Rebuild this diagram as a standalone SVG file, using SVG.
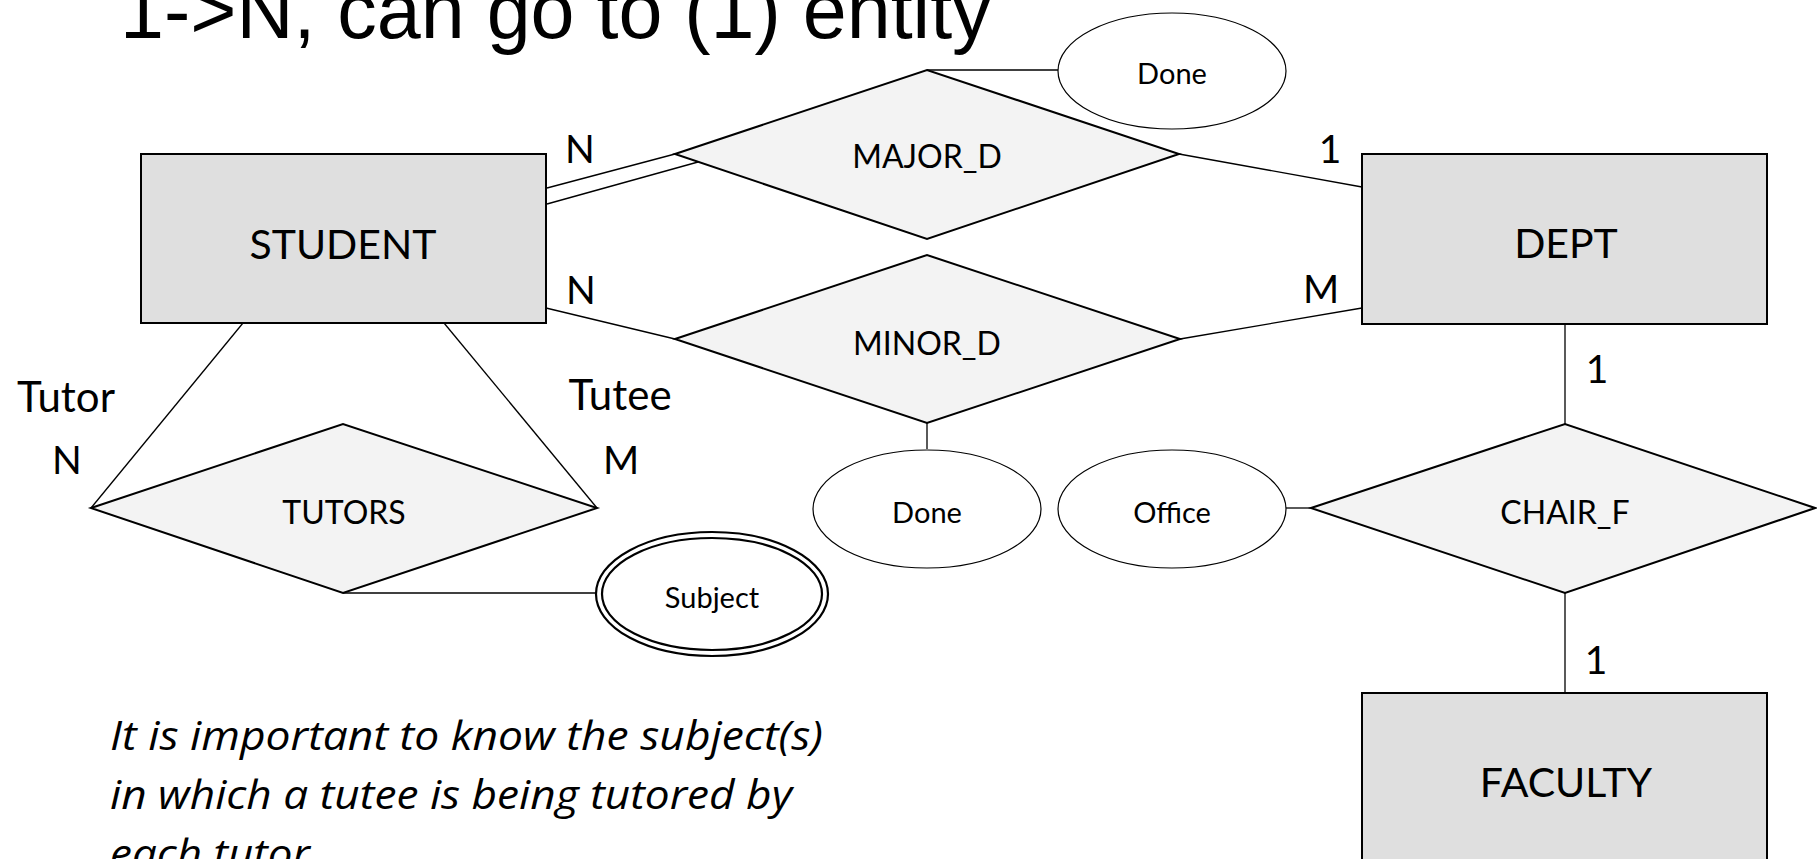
<svg xmlns="http://www.w3.org/2000/svg" width="1817" height="859" viewBox="0 0 1817 859">
  <style>
    .entity { fill: #dfdfdf; stroke: #000; stroke-width: 2; }
    .rel { fill: #f3f3f3; stroke: #000; stroke-width: 2; }
    .attr { fill: #fff; stroke: #000; stroke-width: 1.2; }
    .attr2 { fill: none; stroke: #000; stroke-width: 2.2; }
    .link { stroke: #000; stroke-width: 1.3; fill: none; }
    text { font-family: Lato, "Open Sans", sans-serif; fill: #000; }
    .elabel { font-size: 41px; text-anchor: middle; }
    .rlabel { font-size: 32px; text-anchor: middle; }
    .alabel { font-size: 29px; text-anchor: middle; }
    .card { font-size: 39px; text-anchor: middle; }
    .role { font-size: 42px; text-anchor: middle; }
    .title { font-family: "Liberation Sans", Arial, sans-serif; font-size: 79px; }
    .note { font-family: "Open Sans", Lato, sans-serif; font-size: 40px; font-style: italic; }
  </style>

  <!-- slide heading, clipped at the top edge -->
  <text class="title" x="120" y="38">1-&gt;N, can go to (1) entity</text>

  <!-- connectors -->
  <g id="connectors">
    <!-- STUDENT = MAJOR_D (total participation, double line) -->
    <line class="link" x1="547" y1="188" x2="675" y2="154"/>
    <line class="link" x1="547" y1="204" x2="698" y2="162"/>
    <!-- MAJOR_D - DEPT -->
    <line class="link" x1="1179" y1="154" x2="1362" y2="187"/>
    <!-- MAJOR_D - Done -->
    <line class="link" x1="927" y1="70" x2="1058" y2="70"/>
    <!-- STUDENT - MINOR_D -->
    <line class="link" x1="546" y1="308" x2="675" y2="339"/>
    <!-- MINOR_D - DEPT -->
    <line class="link" x1="1180" y1="339" x2="1362" y2="308"/>
    <!-- MINOR_D - Done -->
    <line class="link" x1="927" y1="423" x2="927" y2="449"/>
    <!-- STUDENT - TUTORS (recursive roles) -->
    <line class="link" x1="243" y1="323" x2="91" y2="508"/>
    <line class="link" x1="444" y1="323" x2="597" y2="508"/>
    <!-- TUTORS - Subject -->
    <line class="link" x1="343" y1="593" x2="596" y2="593"/>
    <!-- DEPT - CHAIR_F -->
    <line class="link" x1="1565" y1="324" x2="1565" y2="424"/>
    <!-- Office - CHAIR_F -->
    <line class="link" x1="1286" y1="508" x2="1311" y2="508"/>
    <!-- CHAIR_F - FACULTY -->
    <line class="link" x1="1565" y1="593" x2="1565" y2="693"/>
  </g>

  <!-- entities -->
  <g id="student">
    <rect class="entity" x="141" y="154" width="405" height="169"/>
    <text class="elabel" x="343" y="259">STUDENT</text>
  </g>
  <g id="dept">
    <rect class="entity" x="1362" y="154" width="405" height="170"/>
    <text class="elabel" x="1566" y="258">DEPT</text>
  </g>
  <g id="faculty">
    <rect class="entity" x="1362" y="693" width="405" height="180"/>
    <text class="elabel" x="1566" y="797">FACULTY</text>
  </g>

  <!-- relationships -->
  <g id="major_d">
    <polygon class="rel" points="675,154 927,70 1179,154 927,239"/>
    <text class="rlabel" x="927" y="168">MAJOR_D</text>
  </g>
  <g id="minor_d">
    <polygon class="rel" points="675,339 927,255 1180,339 927,423"/>
    <text class="rlabel" x="927" y="355">MINOR_D</text>
  </g>
  <g id="tutors">
    <polygon class="rel" points="91,508 343,424 597,508 343,593"/>
    <text class="rlabel" x="344" y="524">TUTORS</text>
  </g>
  <g id="chair_f">
    <polygon class="rel" points="1311,508 1565,424 1815,508 1565,593"/>
    <text class="rlabel" x="1565" y="524">CHAIR_F</text>
  </g>

  <!-- attributes -->
  <g id="done_major">
    <ellipse class="attr" cx="1172" cy="71" rx="114" ry="58"/>
    <text class="alabel" x="1172" y="84">Done</text>
  </g>
  <g id="done_minor">
    <ellipse class="attr" cx="927" cy="509" rx="114" ry="59"/>
    <text class="alabel" x="927" y="523">Done</text>
  </g>
  <g id="office">
    <ellipse class="attr" cx="1172" cy="509" rx="114" ry="59"/>
    <text class="alabel" x="1172" y="523">Office</text>
  </g>
  <g id="subject">
    <ellipse class="attr2" cx="712" cy="594" rx="116" ry="62"/>
    <ellipse class="attr2" cx="712" cy="594" rx="110" ry="56"/>
    <text class="alabel" x="712" y="608">Subject</text>
  </g>

  <!-- cardinalities and role names -->
  <g id="labels">
    <text class="card" x="580" y="163">N</text>
    <text class="card" x="1330" y="163">1</text>
    <text class="card" x="581" y="304">N</text>
    <text class="card" x="1321" y="303">M</text>
    <text class="card" x="1597" y="383">1</text>
    <text class="card" x="1596" y="674">1</text>
    <text class="role" x="66" y="412">Tutor</text>
    <text class="card" x="67" y="474">N</text>
    <text class="role" x="620" y="410">Tutee</text>
    <text class="card" x="621" y="474">M</text>
  </g>

  <!-- explanatory note -->
  <g id="note">
    <text class="note" x="110" y="750" textLength="713" lengthAdjust="spacingAndGlyphs">It is important to know the subject(s)</text>
    <text class="note" x="110" y="809" textLength="682" lengthAdjust="spacingAndGlyphs">in which a tutee is being tutored by</text>
    <text class="note" x="110" y="868" textLength="200" lengthAdjust="spacingAndGlyphs">each tutor</text>
  </g>
</svg>
